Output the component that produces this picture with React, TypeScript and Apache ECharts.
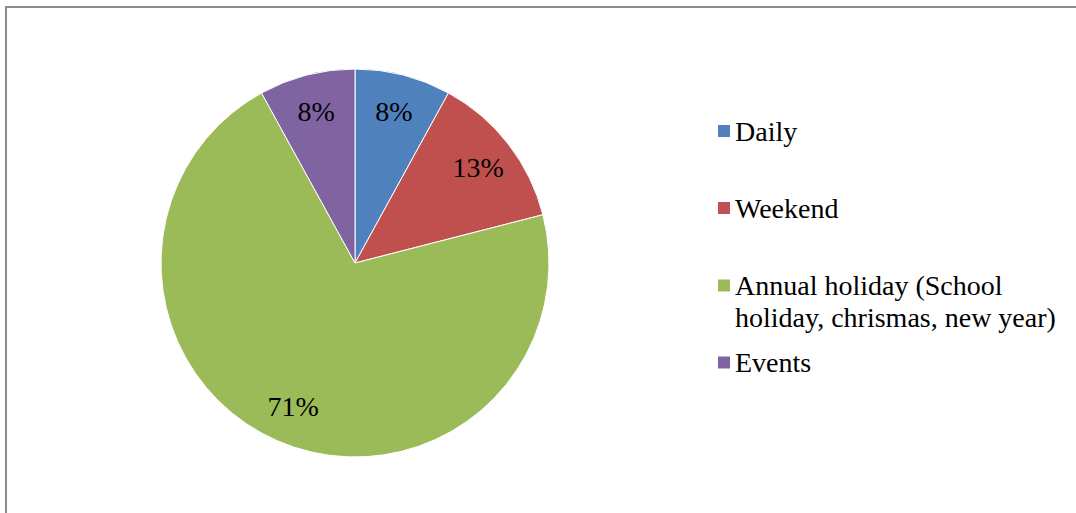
import React, { useEffect, useRef } from "react";
import * as echarts from "echarts";

const categories = ["Daily", "Weekend", "Annual holiday (School holiday, chrismas, new year)", "Events"];
const legendLabels = ["Daily", "Weekend", "Annual holiday (School\nholiday, chrismas, new year)", "Events"];
const values = [8, 13, 71, 8];
const colors = ["#4F81BD", "#C0504D", "#9BBB59", "#8064A2"];
const legendCenters = [131, 208, 285.5, 362.5];

const FONT = "Liberation Serif";

export default function App() {
  const ref = useRef<HTMLDivElement>(null);
  useEffect(() => {
    if (!ref.current) return;
    const chart = echarts.init(ref.current, null, { renderer: "svg" });
    const data = categories.map((name, i) => ({ name, value: values[i], itemStyle: { color: colors[i] } }));
    const lineH = 32;
    const legends = categories.map((name, i) => {
      const multi = legendLabels[i].includes("\n");
      const nLines = multi ? 3 : 1;
      return {
        data: [name],
        orient: "vertical",
        left: 716,
        top: legendCenters[i] - (nLines * lineH) / 2,
        padding: 0,
        itemWidth: 14,
        itemHeight: 14,
        itemGap: 0,
        icon: "rect",
        selectedMode: false,
        formatter: () => (multi ? "\n" + legendLabels[i] : legendLabels[i]),
        textStyle: { fontFamily: FONT, fontSize: 28, color: "#000", lineHeight: lineH, padding: [0, 0, 0, -1] },
      };
    });
    chart.setOption({
      animation: false,
      backgroundColor: "#fff",
      textStyle: { fontFamily: FONT },
      legend: legends,
      graphic: [
        {
          type: "rect",
          shape: { x: 6, y: 7, width: 1200, height: 700 },
          style: { fill: "none", stroke: "#8c8c8c", lineWidth: 2 },
          silent: true,
        },
      ],
      series: [
        {
          type: "pie",
          center: [355, 263],
          radius: [0, 194],
          startAngle: 90,
          clockwise: true,
          data,
          label: { show: false },
          labelLine: { show: false },
          itemStyle: { borderColor: "#fff", borderWidth: 1 },
          silent: true,
        },
        {
          type: "pie",
          center: [355, 263],
          radius: [112, 194],
          startAngle: 90,
          clockwise: true,
          data: categories.map((name, i) => ({ name, value: values[i] })),
          itemStyle: { color: "rgba(0,0,0,0)" },
          label: {
            show: true,
            position: "inside",
            formatter: (p: any) => p.value + "%",
            fontFamily: FONT,
            fontSize: 28,
            color: "#000",
          },
          labelLine: { show: false },
          silent: true,
        },
      ],
    });
    return () => chart.dispose();
  }, []);
  return <div ref={ref} style={{ position: "fixed", left: 0, top: 0, width: 1076, height: 513 }} />;
}
